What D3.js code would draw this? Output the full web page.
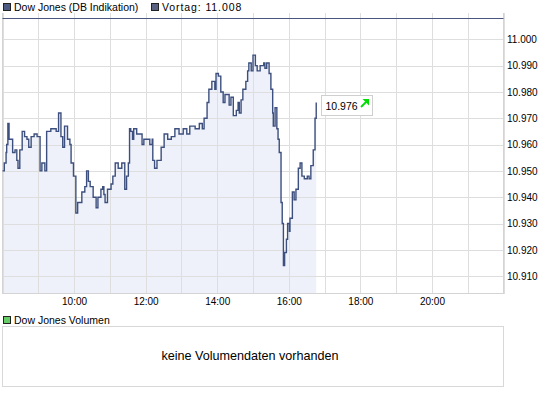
<!DOCTYPE html>
<html lang="de">
<head>
<meta charset="UTF-8">
<title>Dow Jones (DB Indikation)</title>
<script src="https://d3js.org/d3.v7.min.js"></script>
<style>
  body { margin: 0; background: #fff; }
  svg { display: block; }
  text { font-family: "Liberation Sans", Arial, sans-serif; fill: #000; }
  .grid line { stroke: #dedede; shape-rendering: crispEdges; }
  .grid path { display: none; }
  .lbl path, .lbl line { display: none; }
  .lbl text { font-size: 10px; }
</style>
</head>
<body>
<svg id="chart" width="545" height="395"></svg>
<script>
// Kursdaten (Minutenwerte)
const times = ["08:00","08:03","08:06","08:07","08:09","08:11","08:17","08:21","08:24","08:26",
  "08:29","08:33","08:37","08:41","08:44","08:48","08:53","08:58","09:03","09:06",
  "09:11","09:14","09:21","09:30","09:34","09:38","09:41","09:44","09:49","09:53",
  "09:55","09:59","10:03","10:06","10:13","10:18","10:21","10:24","10:27","10:32",
  "10:37","10:40","10:45","10:48","10:50","10:52","10:56","11:02","11:05","11:09",
  "11:14","11:20","11:25","11:28","11:31","11:33","11:35","11:38","11:40","11:45",
  "11:54","11:57","12:07","12:11","12:12","12:15","12:19","12:26","12:31","12:37",
  "12:43","12:49","12:56","13:03","13:09","13:14","13:23","13:30","13:35","13:38",
  "13:43","13:46","13:51","13:56","13:58","14:02","14:06","14:10","14:13","14:20",
  "14:23","14:27","14:32","14:35","14:37","14:40","14:43","14:48","14:51","14:53",
  "14:57","15:00","15:04","15:07","15:12","15:18","15:20","15:23","15:27","15:30",
  "15:33","15:34","15:37","15:40","15:42","15:44","15:47","15:49","15:51","15:53",
  "15:56","15:58","16:01","16:02","16:06","16:09","16:12","16:16","16:19","16:22",
  "16:26","16:31","16:34","16:37","16:41","16:44","16:46"];
const values = [10950,10953,10957,10960,10968,10962,10957,10958,10954,10951,
  10958,10965,10963,10962,10959,10963,10964,10963,10950,10953,
  10950,10965,10966,10965,10972,10963,10959,10967,10962,10960,
  10953,10948,10934,10938,10942,10944,10950,10946,10944,10940,
  10936,10940,10943,10944,10941,10938,10943,10945,10948,10953,
  10951,10953,10943,10948,10953,10966,10965,10962,10966,10964,
  10960,10962,10960,10962,10954,10951,10954,10959,10964,10962,
  10963,10966,10964,10966,10964,10967,10966,10968,10966,10970,
  10976,10981,10984,10981,10987,10986,10980,10976,10979,10975,
  10978,10971,10973,10976,10972,10977,10981,10984,10988,10991,
  10988,10994,10990,10988,10990,10991,10989,10991,10987,10981,
  10972,10967,10974,10966,10962,10957,10938,10930,10914,10919,
  10924,10930,10927,10932,10942,10939,10943,10951,10953,10948,
  10947,10948,10947,10952,10958,10970,10976];
const vortag = 11008;
const yTicks = [10910, 10920, 10930, 10940, 10950, 10960, 10970, 10980, 10990, 11000];
const xLabels = ["10:00", "12:00", "14:00", "16:00", "18:00", "20:00"];
const dayStart = "08:00", dayEnd = "22:00";
const seriesName = "Dow Jones (DB Indikation)";
const vortagName = "Vortag";
const volumeName = "Dow Jones Volumen";
const volumeNote = "keine Volumendaten vorhanden";

const svg = d3.select("#chart");
const parse = d3.timeParse("%H:%M");
const de = d3.formatLocale({decimal: ",", thousands: ".", grouping: [3], currency: ["", " €"]});
const fmt = de.format(",d");

const data = times.map((t, i) => ({t: parse(t), v: values[i]}));

const pLeft = 2.5, pRight = 503.5, pTop = 13, pBottom = 293.5;
const x = d3.scaleTime().domain([parse(dayStart), parse(dayEnd)]).range([pLeft, pRight]);
const y = d3.scaleLinear().domain([10903.4, 11010]).range([pBottom, pTop]);

// Fläche unter der Kurve
svg.append("path")
  .datum(data)
  .attr("fill", "#eef1fa")
  .attr("d", d3.area().curve(d3.curveStepAfter).x(d => x(d.t)).y0(pBottom).y1(d => y(d.v)));

// Gitter
svg.append("g").attr("class", "grid")
  .attr("transform", `translate(0,${pBottom})`)
  .call(d3.axisBottom(x).ticks(d3.timeHour.every(1)).tickSize(-(pBottom - pTop)).tickFormat(""));
svg.append("g").attr("class", "grid")
  .attr("transform", `translate(${pLeft},0)`)
  .call(d3.axisLeft(y).tickValues(yTicks).tickSize(-(pRight - pLeft)).tickFormat(""));

// Rahmen
svg.append("path")
  .attr("d", `M${pLeft},${pTop}V${pBottom}H${pRight}V${pTop}`)
  .attr("fill", "none").attr("stroke", "#d4d4d4").attr("shape-rendering", "crispEdges");

// Vortageslinie
svg.append("line")
  .attr("x1", pLeft).attr("x2", pRight)
  .attr("y1", Math.round(y(vortag)) + 0.5).attr("y2", Math.round(y(vortag)) + 0.5)
  .attr("stroke", "#4a5680");

// Kurs
svg.append("path")
  .datum(data)
  .attr("fill", "none")
  .attr("stroke", "#3c4f7e")
  .attr("stroke-width", 1.4)
  .attr("d", d3.line().curve(d3.curveStepAfter).x(d => x(d.t)).y(d => y(d.v)));

// Achsenbeschriftung
svg.append("g").attr("class", "lbl")
  .attr("transform", `translate(0,${pBottom})`)
  .call(d3.axisBottom(x).tickValues(xLabels.map(parse)).tickSize(0).tickPadding(4).tickFormat(d3.timeFormat("%H:%M")));
svg.append("g").attr("class", "lbl")
  .attr("transform", `translate(${pRight},0)`)
  .call(d3.axisRight(y).tickValues(yTicks).tickSize(0).tickPadding(3.5).tickFormat(fmt));

// Letzter Kurs
const last = data[data.length - 1];
const bx = Math.round(x(last.t)) + 5.5, by = Math.round(y(last.v)) - 6.5;
const box = svg.append("g").attr("transform", `translate(${bx},${by})`);
box.append("rect").attr("width", 51).attr("height", 20)
  .attr("fill", "#fff").attr("stroke", "#cfcfcf");
box.append("text").attr("x", 4).attr("y", 14).attr("font-size", 10.5).text(fmt(last.v));
box.append("path").attr("d", "M39.5,11.5L45,6").attr("stroke", "#00dd00").attr("stroke-width", 1.8);
box.append("path").attr("d", "M41,3.5H47.5V10Z").attr("fill", "#00dd00");

// Legende
function legendItem(lx, ly, color, label, spacing) {
  svg.append("rect").attr("x", lx + 0.5).attr("y", ly + 0.5).attr("width", 7).attr("height", 7)
    .attr("fill", color).attr("stroke", "#222");
  svg.append("text").attr("x", lx + 11).attr("y", ly + 8).attr("font-size", 10.5)
    .attr("letter-spacing", spacing || 0).text(label);
}
legendItem(3, 3, "#4d5b82", seriesName);
legendItem(151, 3, "#596280", `${vortagName}: ${fmt(vortag)}`, 0.9);

// Volumen
legendItem(3, 316, "#66cc66", volumeName);
svg.append("rect").attr("x", pLeft).attr("y", 326.5).attr("width", pRight - pLeft).attr("height", 60)
  .attr("fill", "#fff").attr("stroke", "#d8d8d8");
svg.append("text").attr("x", (pLeft + pRight) / 2 - 3).attr("y", 360)
  .attr("text-anchor", "middle").attr("font-family", "DejaVu Sans").attr("font-size", 12.6)
  .text(volumeNote);
</script>
</body>
</html>
